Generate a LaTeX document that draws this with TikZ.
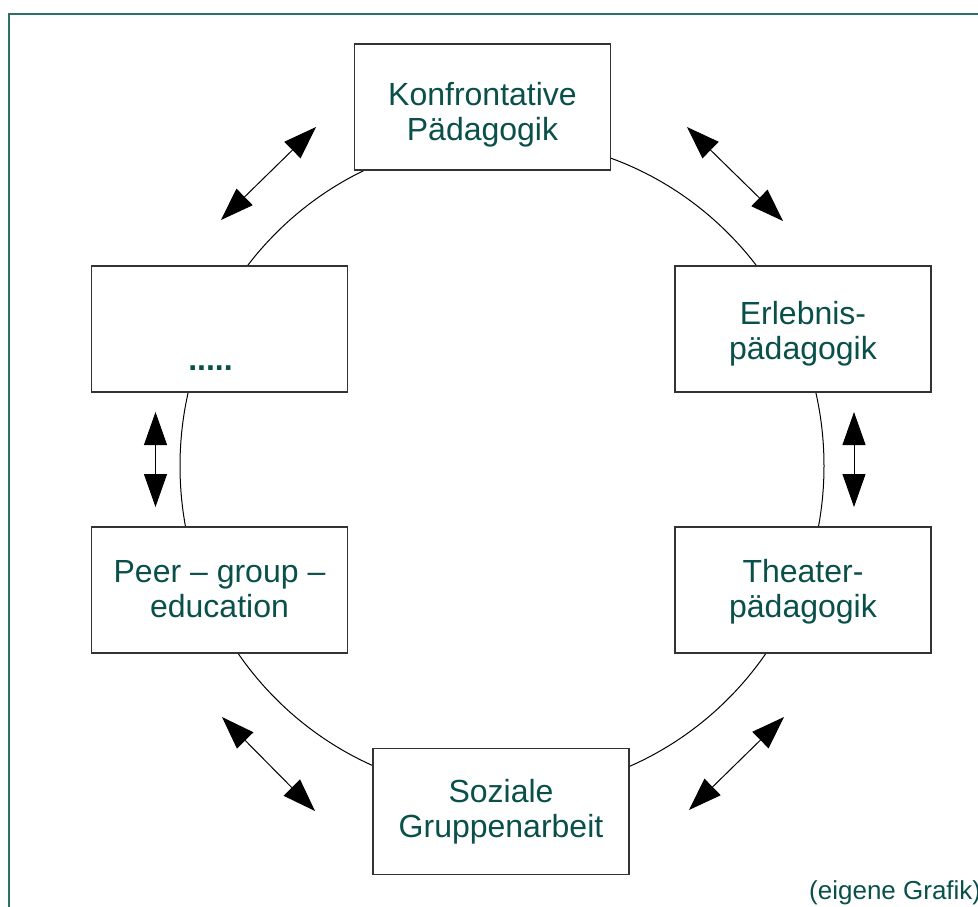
\documentclass[tikz,border=0pt]{standalone}
\usepackage{fontspec}
\setmainfont{Liberation Sans}
\usetikzlibrary{arrows.meta}

\definecolor{textteal}{RGB}{10,80,74}
\definecolor{frameteal}{RGB}{45,112,102}

\begin{document}
\begin{tikzpicture}[x=1pt,y=-1pt,
  box/.style={draw=black!80,line width=1.3pt,fill=white,minimum width=256pt,
    minimum height=126pt,inner sep=0pt,align=center,text=textteal,
    text height=61pt,text depth=7pt,font=\fontsize{32}{35}\selectfont},
  link/.style={{Triangle[length=33pt,width=23pt]}-{Triangle[length=33pt,width=23pt]},
    line width=1pt}]

\useasboundingbox (0,0) rectangle (978,906);
\clip (0,0) rectangle (978,906);

% frame, cut off at the right and bottom
\draw[frameteal,line width=2pt] (8.5,1000) -- (8.5,14) -- (1000,14);

% the ring behind the boxes
\draw[line width=1pt] (502,466) ellipse [x radius=322,y radius=327];

\node[box,text height=73pt] (konf) at (482.5,107) {Konfrontative\\P\"adagogik};
\node[box,text height=89pt] (more) at (219.5,329) {\strut\\\textbf{.....}\rule{18pt}{0pt}};
\node[box,text height=67pt] (erleb) at (803,329) {Erlebnis-\\p\"adagogik};
\node[box] (peer) at (219.5,590) {Peer -- group --\\education};
\node[box] (theater) at (803,590) {Theater-\\p\"adagogik};
\node[box,text height=59pt] (sozial) at (501,811.5) {Soziale\\Gruppenarbeit};

% free arrows between the boxes
\coordinate (tl1) at (316,127);  \coordinate (tl2) at (221,220);
\coordinate (tr1) at (687,127);  \coordinate (tr2) at (783,221);
\coordinate (ml1) at (155.5,412); \coordinate (ml2) at (155.5,507);
\coordinate (mr1) at (854,412);  \coordinate (mr2) at (854,507);
\coordinate (bl1) at (222,717);  \coordinate (bl2) at (315,811);
\coordinate (br1) at (689,810);  \coordinate (br2) at (784,717);

\draw[link] (tl1) -- (tl2);
\draw[link] (tr1) -- (tr2);
\draw[link] (ml1) -- (ml2);
\draw[link] (mr1) -- (mr2);
\draw[link] (bl1) -- (bl2);
\draw[link] (br1) -- (br2);

\node[anchor=base west,inner sep=0pt,text=textteal,font=\fontsize{26}{29}\selectfont]
  (quelle) at (809,899) {(eigene Grafik)};

\end{tikzpicture}
\end{document}
